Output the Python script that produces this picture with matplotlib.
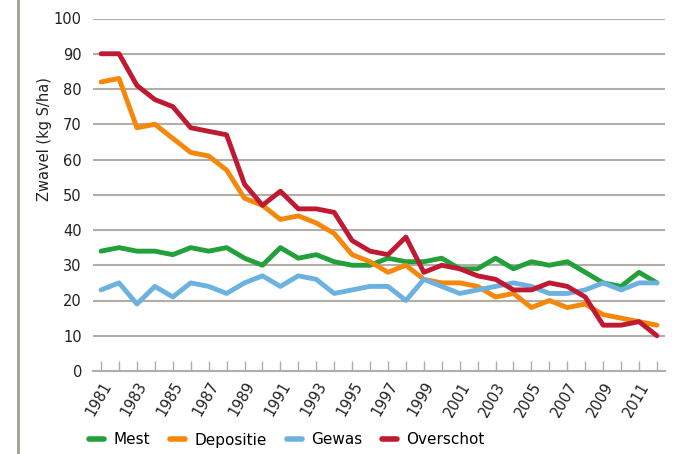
import matplotlib
matplotlib.use("Agg")
import matplotlib.pyplot as plt
from matplotlib.lines import Line2D

years = list(range(1981, 2013))
mest = [34, 35, 34, 34, 33, 35, 34, 35, 32, 30, 35, 32, 33, 31, 30, 30,
        32, 31, 31, 32, 29, 29, 32, 29, 31, 30, 31, 28, 25, 24, 28, 25]
depositie = [82, 83, 69, 70, 66, 62, 61, 57, 49, 47, 43, 44, 42, 39, 33, 31,
             28, 30, 26, 25, 25, 24, 21, 22, 18, 20, 18, 19, 16, 15, 14, 13]
gewas = [23, 25, 19, 24, 21, 25, 24, 22, 25, 27, 24, 27, 26, 22, 23, 24,
         24, 20, 26, 24, 22, 23, 24, 25, 24, 22, 22, 23, 25, 23, 25, 25]
overschot = [90, 90, 81, 77, 75, 69, 68, 67, 53, 47, 51, 46, 46, 45, 37, 34,
             33, 38, 28, 30, 29, 27, 26, 23, 23, 25, 24, 21, 13, 13, 14, 10]
series_names = ["Mest", "Depositie", "Gewas", "Overschot"]
colors = ["#22a03a", "#f5870a", "#6cb2e0", "#c01a32"]
yticks = list(range(0, 101, 10))

plt.rcParams['font.family'] = ['DejaVu Sans']
fig = plt.figure(figsize=(6.8, 4.54), dpi=100)
ax = fig.add_axes([93/680, 1-371/454, (665-93)/680, (371-18.5)/454])

grid_c = "#b3ada8"
x = list(range(len(years)))
for name, vals, c in zip(series_names, [mest, depositie, gewas, overschot], colors):
    ax.plot(x, vals, color=c, lw=3.5, label=name, solid_capstyle='round',
            solid_joinstyle='round', zorder=3)

ax.set_xlim(-0.45, len(years) - 0.55)
ax.set_ylim(0, 100)
ax.set_yticks(yticks)
ax.set_yticklabels([str(v) for v in yticks], fontsize=10.5, color="#222222")
for v in yticks[1:]:
    ax.axhline(v, color=grid_c, lw=1.5, zorder=1)

ax.set_xticks(x)
ax.set_xticklabels([str(y) if (y - 1981) % 2 == 0 else "" for y in years],
                   rotation=60, ha='right', va='top', rotation_mode='anchor',
                   fontsize=10.5, color="#222222")
ax.tick_params(axis='x', direction='in', length=7, width=1, color=grid_c, pad=6)
ax.tick_params(axis='y', length=0, pad=8)

for s in ['top', 'right', 'left']:
    ax.spines[s].set_visible(False)
ax.spines['bottom'].set_color(grid_c)
ax.spines['bottom'].set_linewidth(1.5)

fig.text(45/680, 1-139/454, "Zwavel (kg S/ha)", rotation=90, ha='center',
         va='center', fontsize=10.5, color="#222222")

fig.add_artist(Line2D([18/680, 18/680], [0, 1], transform=fig.transFigure,
                      color="#a39d98", lw=2))

handles = [Line2D([0], [0], color=c, lw=4, solid_capstyle='round') for c in colors]
fig.legend(handles, series_names, loc='center', bbox_to_anchor=(287/680, 1-440/454),
           ncol=4, frameon=False, fontsize=11, handlelength=1.0, handletextpad=0.6,
           columnspacing=1.3)

fig.savefig("out.png", dpi=100)
